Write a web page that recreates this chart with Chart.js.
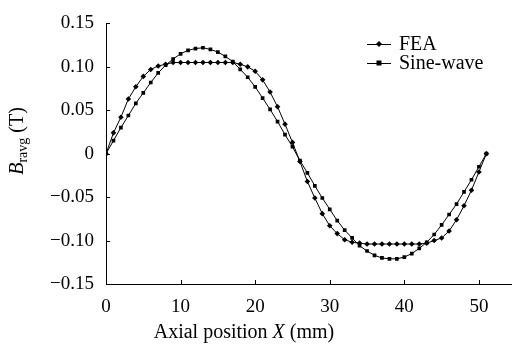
<!DOCTYPE html>
<html>
<head>
<meta charset="utf-8">
<script src="https://cdn.jsdelivr.net/npm/chart.js@4"></script>
<style>
html, body { margin: 0; padding: 0; background: #fff; }
</style>
</head>
<body>
<canvas id="chart" width="515" height="347"></canvas>
<script>
// axial positions in mm
const positions = [0, 1, 2, 3, 4, 5, 6, 7, 8, 9, 10, 11, 12, 13, 14, 15, 16, 17, 18, 19, 20,
  21, 22, 23, 24, 25, 26, 27, 28, 29, 30, 31, 32, 33, 34, 35, 36, 37, 38, 39, 40,
  41, 42, 43, 44, 45, 46, 47, 48, 49, 50, 51];

const feaValues = [0, 0.024, 0.042, 0.063, 0.077, 0.089, 0.097, 0.101, 0.103, 0.105, 0.105,
  0.105, 0.105, 0.105, 0.105, 0.105, 0.105, 0.105, 0.103, 0.100, 0.095,
  0.085, 0.071, 0.054, 0.034, 0.013, -0.009, -0.032, -0.051, -0.069, -0.083,
  -0.092, -0.099, -0.102, -0.103, -0.104, -0.104, -0.104, -0.104, -0.104, -0.104,
  -0.104, -0.104, -0.103, -0.100, -0.097, -0.089, -0.076, -0.060, -0.042, -0.021, 0];

const sineValues = [0, 0.015, 0.030, 0.044, 0.058, 0.070, 0.082, 0.093, 0.102, 0.109, 0.115,
  0.119, 0.121, 0.122, 0.120, 0.117, 0.112, 0.106, 0.097, 0.088, 0.077,
  0.064, 0.051, 0.037, 0.022, 0.008, -0.008, -0.022, -0.037, -0.051, -0.064,
  -0.077, -0.088, -0.097, -0.106, -0.112, -0.117, -0.120, -0.121, -0.121, -0.119,
  -0.115, -0.109, -0.102, -0.093, -0.082, -0.070, -0.058, -0.044, -0.030, -0.015, 0];

const xTicks = [0, 10, 20, 30, 40, 50];
const yTicks = [0.15, 0.10, 0.05, 0, -0.05, -0.10, -0.15];
const yTickLabels = ["0.15", "0.10", "0.05", "0", "\u22120.05", "\u22120.10", "\u22120.15"];

const FONT = "'Liberation Serif', 'Times New Roman', serif";

function toPoints(ys) {
  return positions.map((x, i) => ({ x: x, y: ys[i] }));
}

const extras = {
  id: "extras",
  afterDraw(chart) {
    const ctx = chart.ctx;
    const xs = chart.scales.x, ys = chart.scales.y;
    const area = chart.chartArea;
    ctx.save();
    ctx.strokeStyle = "#000";
    ctx.lineWidth = 1;
    // inward tick marks
    ctx.beginPath();
    xTicks.forEach(v => {
      const px = Math.round(xs.getPixelForValue(v)) + 0.5;
      ctx.moveTo(px, area.bottom);
      ctx.lineTo(px, area.bottom - 4);
    });
    yTicks.forEach(v => {
      const py = Math.round(ys.getPixelForValue(v)) + 0.5;
      ctx.moveTo(area.left, py);
      ctx.lineTo(area.left + 4, py);
    });
    ctx.stroke();

    // legend
    ctx.fillStyle = "#000";
    ctx.font = "20px " + FONT;
    ctx.textBaseline = "middle";
    const rows = [{ y: 44, ds: chart.data.datasets[0] }, { y: 63, ds: chart.data.datasets[1] }];
    rows.forEach(r => {
      ctx.beginPath();
      ctx.moveTo(367, r.y + 0.5);
      ctx.lineTo(391, r.y + 0.5);
      ctx.stroke();
      const m = 379;
      ctx.beginPath();
      if (r.ds.pointStyle === "rectRot") {
        ctx.moveTo(m, r.y - 3); ctx.lineTo(m + 3, r.y); ctx.lineTo(m, r.y + 3); ctx.lineTo(m - 3, r.y);
      } else {
        ctx.rect(m - 2.5, r.y - 2.5, 5, 5);
      }
      ctx.closePath();
      ctx.fill();
      ctx.fillText(r.ds.label, 399, r.y + 1);
    });

    // y axis title: B_ravg (T)
    ctx.translate(16, 141);
    ctx.rotate(-Math.PI / 2);
    ctx.textBaseline = "alphabetic";
    const big = "20px " + FONT, ital = "italic 20px " + FONT, small = "14px " + FONT;
    ctx.font = ital; const wB = ctx.measureText("B").width;
    ctx.font = small; const wS = ctx.measureText("ravg").width;
    ctx.font = big; const wT = ctx.measureText(" (T)").width;
    let x0 = -(wB + wS + wT) / 2;
    ctx.font = ital; ctx.fillText("B", x0, 7); x0 += wB;
    ctx.font = small; ctx.fillText("ravg", x0, 11); x0 += wS;
    ctx.font = big; ctx.fillText(" (T)", x0, 7);
    ctx.restore();

    // x axis title
    ctx.save();
    ctx.fillStyle = "#000";
    ctx.textBaseline = "alphabetic";
    const p1 = "Axial position ", p2 = "X", p3 = " (mm)";
    ctx.font = "20px " + FONT; const w1 = ctx.measureText(p1).width, w3 = ctx.measureText(p3).width;
    ctx.font = "italic 20px " + FONT; const w2 = ctx.measureText(p2).width;
    let sx = 244 - (w1 + w2 + w3) / 2;
    ctx.font = "20px " + FONT; ctx.fillText(p1, sx, 338); sx += w1;
    ctx.font = "italic 20px " + FONT; ctx.fillText(p2, sx, 338); sx += w2;
    ctx.font = "20px " + FONT; ctx.fillText(p3, sx, 338);
    ctx.restore();
  }
};

new Chart(document.getElementById("chart"), {
  type: "line",
  data: {
    datasets: [
      {
        label: "FEA",
        data: toPoints(feaValues),
        borderColor: "#000",
        backgroundColor: "#000",
        borderWidth: 1,
        pointStyle: "rectRot",
        pointRadius: 2.8,
        pointBorderWidth: 0,
        tension: 0
      },
      {
        label: "Sine-wave",
        data: toPoints(sineValues),
        borderColor: "#000",
        backgroundColor: "#000",
        borderWidth: 1,
        pointStyle: "rect",
        pointRadius: 2.6,
        pointBorderWidth: 0,
        tension: 0
      }
    ]
  },
  options: {
    responsive: false,
    animation: false,
    layout: { padding: { top: 17, left: 0, right: 0, bottom: 0 } },
    plugins: { legend: { display: false }, tooltip: { enabled: false } },
    scales: {
      x: {
        type: "linear",
        min: 0,
        max: 54.3,
        afterBuildTicks: s => { s.ticks = xTicks.map(v => ({ value: v })); },
        afterFit: s => { s.height = 63; },
        grid: { display: false, drawTicks: false },
        border: { display: true, color: "#000", width: 1 },
        ticks: { color: "#000", padding: 12, maxRotation: 0, font: { family: FONT, size: 19 } }
      },
      y: {
        min: -0.15,
        max: 0.15,
        afterBuildTicks: s => { s.ticks = yTicks.map(v => ({ value: v })); },
        afterFit: s => { s.width = 106; },
        grid: { display: false, drawTicks: false },
        border: { display: true, color: "#000", width: 1 },
        ticks: {
          color: "#000",
          padding: 12,
          font: { family: FONT, size: 19 },
          callback: v => {
            const i = yTicks.findIndex(t => Math.abs(t - v) < 1e-9);
            return i >= 0 ? yTickLabels[i] : "";
          }
        }
      }
    }
  },
  plugins: [extras]
});
</script>
</body>
</html>
